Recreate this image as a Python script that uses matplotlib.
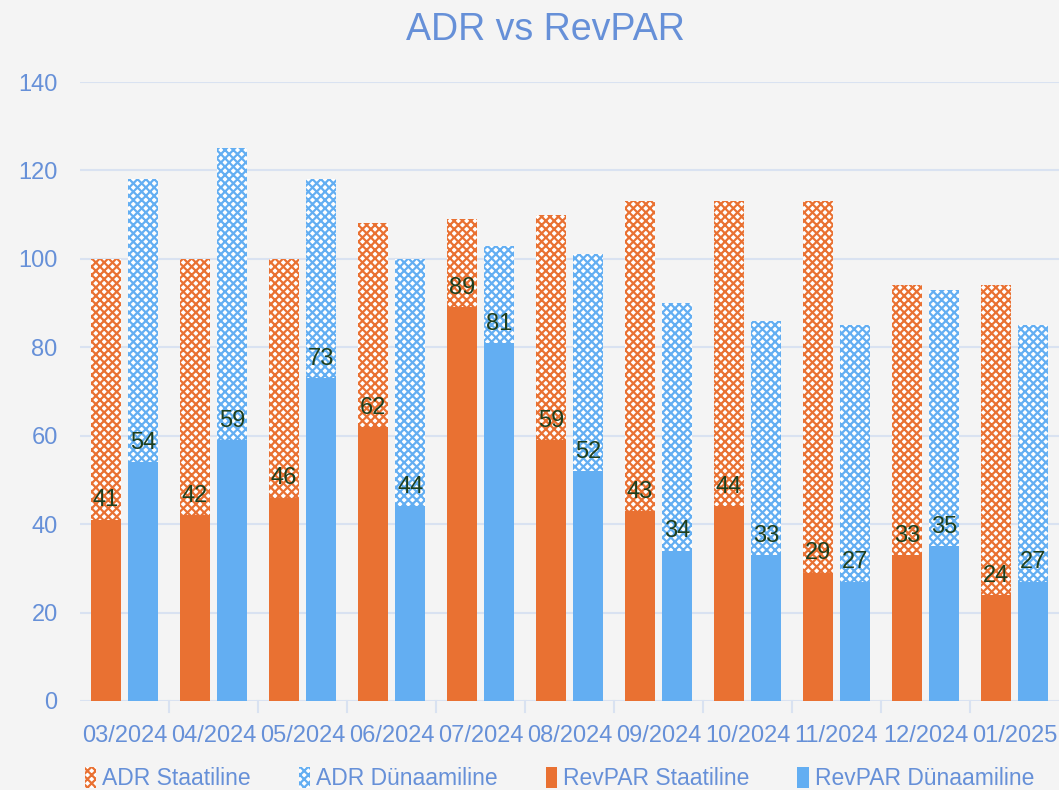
import matplotlib
matplotlib.use('Agg')
import matplotlib.pyplot as plt
import numpy as np

# andmed
months = ['03/2024', '04/2024', '05/2024', '06/2024', '07/2024', '08/2024',
          '09/2024', '10/2024', '11/2024', '12/2024', '01/2025']
adr_static = [100, 100, 100, 108, 109, 110, 113, 113, 113, 94, 94]
adr_dynamic = [118, 125, 118, 100, 103, 101, 90, 86, 85, 93, 85]
revpar_static = [41, 42, 46, 62, 89, 59, 43, 44, 29, 33, 24]
revpar_dynamic = [54, 59, 73, 44, 81, 52, 34, 33, 27, 35, 27]

orange = '#E97132'
blue = '#63AEF2'
text_blue = '#6690D8'
label_green = '#1E3F1E'
bg = '#F4F4F4'

plt.rcParams['font.family'] = ['Liberation Sans', 'DejaVu Sans']
plt.rcParams['hatch.linewidth'] = 1.6

fig = plt.figure(figsize=(10.59, 7.90), dpi=100, facecolor=bg)
ax = fig.add_axes([0.0755, 0.1127, 0.9245, 0.7835], facecolor=bg)

x = np.arange(len(months))
w = 0.34
off = 0.21

ax.bar(x - off, adr_static, w, facecolor='white', edgecolor=orange,
       linewidth=0, hatch='xxxx', label='ADR Staatiline', zorder=2)
ax.bar(x + off, adr_dynamic, w, facecolor='white', edgecolor=blue,
       linewidth=0, hatch='xxxx', label='ADR Dünaamiline', zorder=2)
b1 = ax.bar(x - off, revpar_static, w, color=orange, label='RevPAR Staatiline', zorder=3)
b2 = ax.bar(x + off, revpar_dynamic, w, color=blue, label='RevPAR Dünaamiline', zorder=3)

for bars, vals in [(b1, revpar_static), (b2, revpar_dynamic)]:
    for rect, v in zip(bars, vals):
        ax.annotate(str(v), (rect.get_x() + rect.get_width() / 2, v),
                    xytext=(0, 6), textcoords='offset points',
                    ha='center', va='bottom', fontsize=17, color=label_green, zorder=4)

ax.set_xlim(-0.5, len(months) - 0.5)
ax.set_ylim(0, 140)
ax.set_yticks(range(0, 141, 20))
ax.set_xticks(x)
ax.set_xticklabels(months)
ax.tick_params(axis='both', length=0, labelsize=17, labelcolor=text_blue)
ax.tick_params(axis='x', pad=17)
ax.tick_params(axis='y', pad=16)
ax.yaxis.grid(True, color='#D9E2F1', linewidth=1.5, zorder=0)
ax.set_axisbelow(True)
for s in ax.spines.values():
    s.set_visible(False)

# category separators on x axis
for b in np.arange(0.5, len(months) - 0.5, 1):
    ax.plot([b, b], [0, -2.5], color='#D9E2F1', linewidth=1.5, clip_on=False)

fig.text(0.515, 0.962, 'ADR vs RevPAR', ha='center', va='center',
         fontsize=27, color=text_blue)

ax.legend(loc='upper left', bbox_to_anchor=(-0.016, -0.074), ncol=4, frameon=False,
          fontsize=16.5, labelcolor=text_blue, handlelength=0.5, handleheight=1.0,
          handletextpad=0.25, columnspacing=2.1)

fig.savefig('out.png', dpi=100, facecolor=bg)
